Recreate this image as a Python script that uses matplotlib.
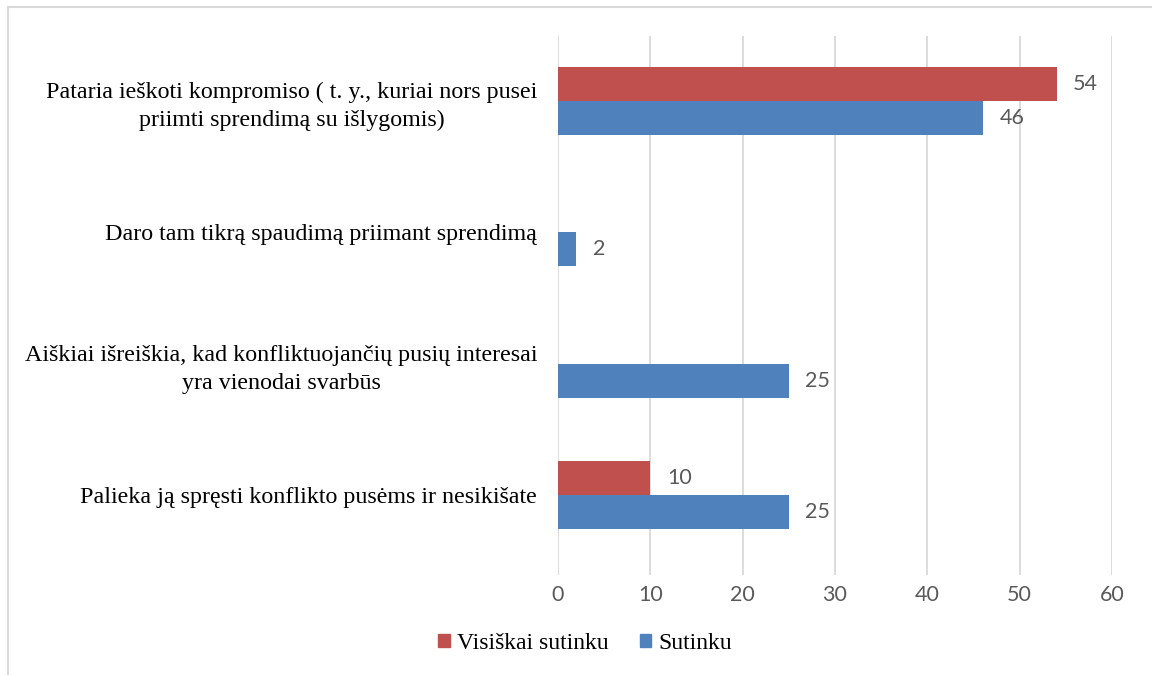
import matplotlib
matplotlib.use('Agg')
import matplotlib.pyplot as plt
from matplotlib.lines import Line2D
from matplotlib.patches import Rectangle

# data, top to bottom
categories = [
    'Pataria ieškoti kompromiso ( t. y., kuriai nors pusei\npriimti sprendimą su išlygomis)',
    'Daro tam tikrą spaudimą priimant sprendimą',
    'Aiškiai išreiškia, kad konfliktuojančių pusių interesai\nyra vienodai svarbūs',
    'Palieka ją spręsti konflikto pusėms ir nesikišate',
]
visiskai = [54, 0, 0, 10]
sutinku = [46, 2, 25, 25]
series_names = ['Visiškai sutinku', 'Sutinku']
xticks = [0, 10, 20, 30, 40, 50, 60]

red = '#c0504d'
blue = '#4f81bd'
gray = '#595959'
serif = 'Liberation Serif'
sans = 'Lato'

fig = plt.figure(figsize=(11.52, 6.75), dpi=100)
ax = fig.add_axes([0.4844, 0.148, 0.4809, 0.7987])

pos = list(range(len(categories)))
h = 0.26
ax.barh([p - h / 2 for p in pos], visiskai, height=h, color=red, zorder=3)
ax.barh([p + h / 2 for p in pos], sutinku, height=h, color=blue, zorder=3)

for p, v in zip(pos, visiskai):
    if v:
        ax.text(v + 1.8, p - h / 2, str(v), va='center', ha='left',
                fontsize=15.5, color=gray, family=sans)
for p, v in zip(pos, sutinku):
    ax.text(v + 1.8, p + h / 2, str(v), va='center', ha='left',
            fontsize=15.5, color=gray, family=sans)

ax.set_xlim(0, 60)
ax.set_ylim(3.61, -0.495)
ax.set_xticks(xticks)
ax.set_xticklabels([str(t) for t in xticks], fontsize=15.5, color=gray, family=sans)
ax.set_yticks(pos)
ax.set_yticklabels(categories, fontsize=17.3, family=serif, color='black',
                   multialignment='center', linespacing=1.4)
ax.tick_params(axis='both', length=0)
ax.tick_params(axis='x', pad=7)
ax.tick_params(axis='y', pad=15)
ax.grid(axis='x', color='#d9d9d9', linewidth=1.3, zorder=0)
for s in ax.spines.values():
    s.set_visible(False)

handles = [Rectangle((0, 0), 1, 1, color=red), Rectangle((0, 0), 1, 1, color=blue)]
fig.legend(handles, series_names, loc='center', bbox_to_anchor=(0.508, 0.047),
           ncol=2, frameon=False, prop={'family': serif, 'size': 17},
           handlelength=0.5, handleheight=0.5, handletextpad=0.3, columnspacing=1.3)

# chart frame (only top and left edges visible)
fig.add_artist(Line2D([8 / 1152, 1], [1 - 7 / 675, 1 - 7 / 675], color='#d9d9d9', lw=1.5))
fig.add_artist(Line2D([8 / 1152, 8 / 1152], [0, 1 - 7 / 675], color='#d9d9d9', lw=1.5))

fig.savefig('out.png', dpi=100)
